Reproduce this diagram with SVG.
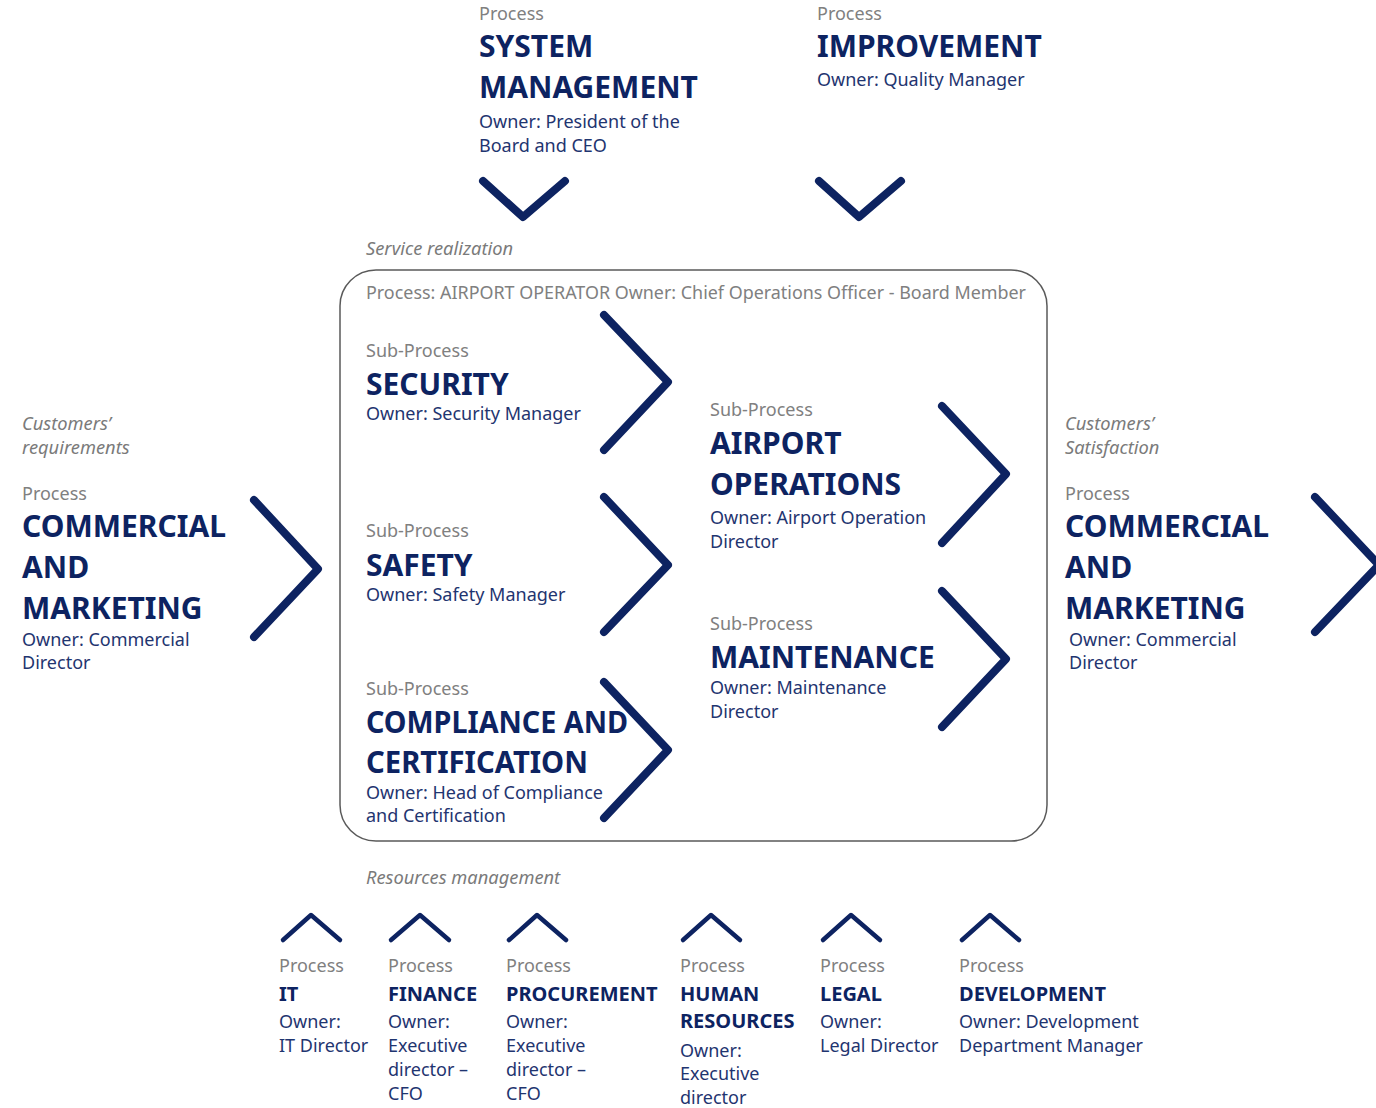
<svg xmlns="http://www.w3.org/2000/svg" width="1376" height="1108" viewBox="0 0 1376 1108">
  <style>
    text { font-family: "Noto Sans", "Open Sans", "Liberation Sans", sans-serif; }
    .lbl { fill: #808080; font-size: 18px; }
    .cap { fill: #7a7a7a; font-size: 18.3px; font-style: italic; }
    .ttl { fill: #0d2361; font-size: 30px; font-weight: 700; }
    .btl { fill: #0d2361; font-size: 20px; font-weight: 700; }
    .own { fill: #1f3570; font-size: 18px; }
    .chev { fill: none; stroke: #0d2361; stroke-width: 8; stroke-linecap: round; stroke-linejoin: round; }
    .chev.small { stroke-width: 4.5; }
    .frame { fill: none; stroke: #5a5a5a; stroke-width: 1.5; }
  </style>
  <rect width="1376" height="1108" fill="#ffffff"/>

  <!-- management processes on top -->
  <g id="system-management">
    <text class="lbl" x="479" y="20">Process</text>
    <text class="ttl" x="479" y="57">SYSTEM</text>
    <text class="ttl" x="479" y="98">MANAGEMENT</text>
    <text class="own" x="479" y="128">Owner: President of the</text>
    <text class="own" x="479" y="152">Board and CEO</text>
  </g>
  <g id="improvement">
    <text class="lbl" x="817" y="20">Process</text>
    <text class="ttl" x="817" y="57">IMPROVEMENT</text>
    <text class="own" x="817" y="86">Owner: Quality Manager</text>
  </g>

  <!-- service realization frame -->
  <text class="cap" x="366" y="255">Service realization</text>
  <g id="airport-operator">
    <rect class="frame" x="340" y="270" width="707" height="571" rx="36" ry="36"/>
    <text class="lbl" x="366" y="299" textLength="660" lengthAdjust="spacingAndGlyphs">Process: AIRPORT OPERATOR Owner: Chief Operations Officer - Board Member</text>
  </g>

  <g id="security">
    <text class="lbl" x="366" y="357">Sub-Process</text>
    <text class="ttl" x="366" y="395">SECURITY</text>
    <text class="own" x="366" y="420">Owner: Security Manager</text>
  </g>
  <g id="safety">
    <text class="lbl" x="366" y="537">Sub-Process</text>
    <text class="ttl" x="366" y="576">SAFETY</text>
    <text class="own" x="366" y="601">Owner: Safety Manager</text>
  </g>
  <g id="compliance">
    <text class="lbl" x="366" y="695">Sub-Process</text>
    <text class="ttl" x="366" y="733" textLength="262" lengthAdjust="spacingAndGlyphs">COMPLIANCE AND</text>
    <text class="ttl" x="366" y="773" textLength="222" lengthAdjust="spacingAndGlyphs">CERTIFICATION</text>
    <text class="own" x="366" y="799">Owner: Head of Compliance</text>
    <text class="own" x="366" y="822">and Certification</text>
  </g>
  <g id="airport-operations">
    <text class="lbl" x="710" y="416">Sub-Process</text>
    <text class="ttl" x="710" y="454">AIRPORT</text>
    <text class="ttl" x="710" y="495">OPERATIONS</text>
    <text class="own" x="710" y="524">Owner: Airport Operation</text>
    <text class="own" x="710" y="548">Director</text>
  </g>
  <g id="maintenance">
    <text class="lbl" x="710" y="630">Sub-Process</text>
    <text class="ttl" x="710" y="668">MAINTENANCE</text>
    <text class="own" x="710" y="694">Owner: Maintenance</text>
    <text class="own" x="710" y="718">Director</text>
  </g>

  <!-- customer side processes -->
  <g id="commercial-in">
    <text class="cap" x="22" y="430">Customers’</text>
    <text class="cap" x="22" y="454">requirements</text>
    <text class="lbl" x="22" y="500">Process</text>
    <text class="ttl" x="22" y="537">COMMERCIAL</text>
    <text class="ttl" x="22" y="578">AND</text>
    <text class="ttl" x="22" y="619">MARKETING</text>
    <text class="own" x="22" y="646">Owner: Commercial</text>
    <text class="own" x="22" y="669">Director</text>
  </g>
  <g id="commercial-out">
    <text class="cap" x="1065" y="430">Customers’</text>
    <text class="cap" x="1065" y="454">Satisfaction</text>
    <text class="lbl" x="1065" y="500">Process</text>
    <text class="ttl" x="1065" y="537">COMMERCIAL</text>
    <text class="ttl" x="1065" y="578">AND</text>
    <text class="ttl" x="1065" y="619">MARKETING</text>
    <text class="own" x="1069" y="646">Owner: Commercial</text>
    <text class="own" x="1069" y="669">Director</text>
  </g>

  <!-- support processes -->
  <text class="cap" x="366" y="884">Resources management</text>
  <g id="it">
    <text class="lbl" x="279" y="972">Process</text>
    <text class="btl" x="279" y="1001">IT</text>
    <text class="own" x="279" y="1028">Owner:</text>
    <text class="own" x="279" y="1052">IT Director</text>
  </g>
  <g id="finance">
    <text class="lbl" x="388" y="972">Process</text>
    <text class="btl" x="388" y="1001">FINANCE</text>
    <text class="own" x="388" y="1028">Owner:</text>
    <text class="own" x="388" y="1052">Executive</text>
    <text class="own" x="388" y="1076">director –</text>
    <text class="own" x="388" y="1100">CFO</text>
  </g>
  <g id="procurement">
    <text class="lbl" x="506" y="972">Process</text>
    <text class="btl" x="506" y="1001">PROCUREMENT</text>
    <text class="own" x="506" y="1028">Owner:</text>
    <text class="own" x="506" y="1052">Executive</text>
    <text class="own" x="506" y="1076">director –</text>
    <text class="own" x="506" y="1100">CFO</text>
  </g>
  <g id="human-resources">
    <text class="lbl" x="680" y="972">Process</text>
    <text class="btl" x="680" y="1001">HUMAN</text>
    <text class="btl" x="680" y="1028">RESOURCES</text>
    <text class="own" x="680" y="1057">Owner:</text>
    <text class="own" x="680" y="1080">Executive</text>
    <text class="own" x="680" y="1104">director</text>
  </g>
  <g id="legal">
    <text class="lbl" x="820" y="972">Process</text>
    <text class="btl" x="820" y="1001">LEGAL</text>
    <text class="own" x="820" y="1028">Owner:</text>
    <text class="own" x="820" y="1052">Legal Director</text>
  </g>
  <g id="development">
    <text class="lbl" x="959" y="972">Process</text>
    <text class="btl" x="959" y="1001">DEVELOPMENT</text>
    <text class="own" x="959" y="1028">Owner: Development</text>
    <text class="own" x="959" y="1052">Department Manager</text>
  </g>

  <!-- chevron connectors -->
  <g id="connectors">
    <polyline class="chev" points="483,181 523,217 565,181"/>
    <polyline class="chev" points="819,181 859,217 901,181"/>
    <polyline class="chev" points="254,500 318,569 254,637"/>
    <polyline class="chev" points="604,315 668,382 604,450"/>
    <polyline class="chev" points="604,497 668,565 604,632"/>
    <polyline class="chev" points="604,682 668,750 604,818"/>
    <polyline class="chev" points="942,406 1006,474 942,543"/>
    <polyline class="chev" points="942,591 1006,659 942,727"/>
    <polyline class="chev" points="1315,497 1379,565 1315,632"/>
    <polyline class="chev small" points="283,940 311,915 340,940"/>
    <polyline class="chev small" points="391,940 420,915 449,940"/>
    <polyline class="chev small" points="509,940 537,915 566,940"/>
    <polyline class="chev small" points="683,940 711,915 740,940"/>
    <polyline class="chev small" points="823,940 851,915 880,940"/>
    <polyline class="chev small" points="962,940 990,915 1019,940"/>
  </g>
</svg>
